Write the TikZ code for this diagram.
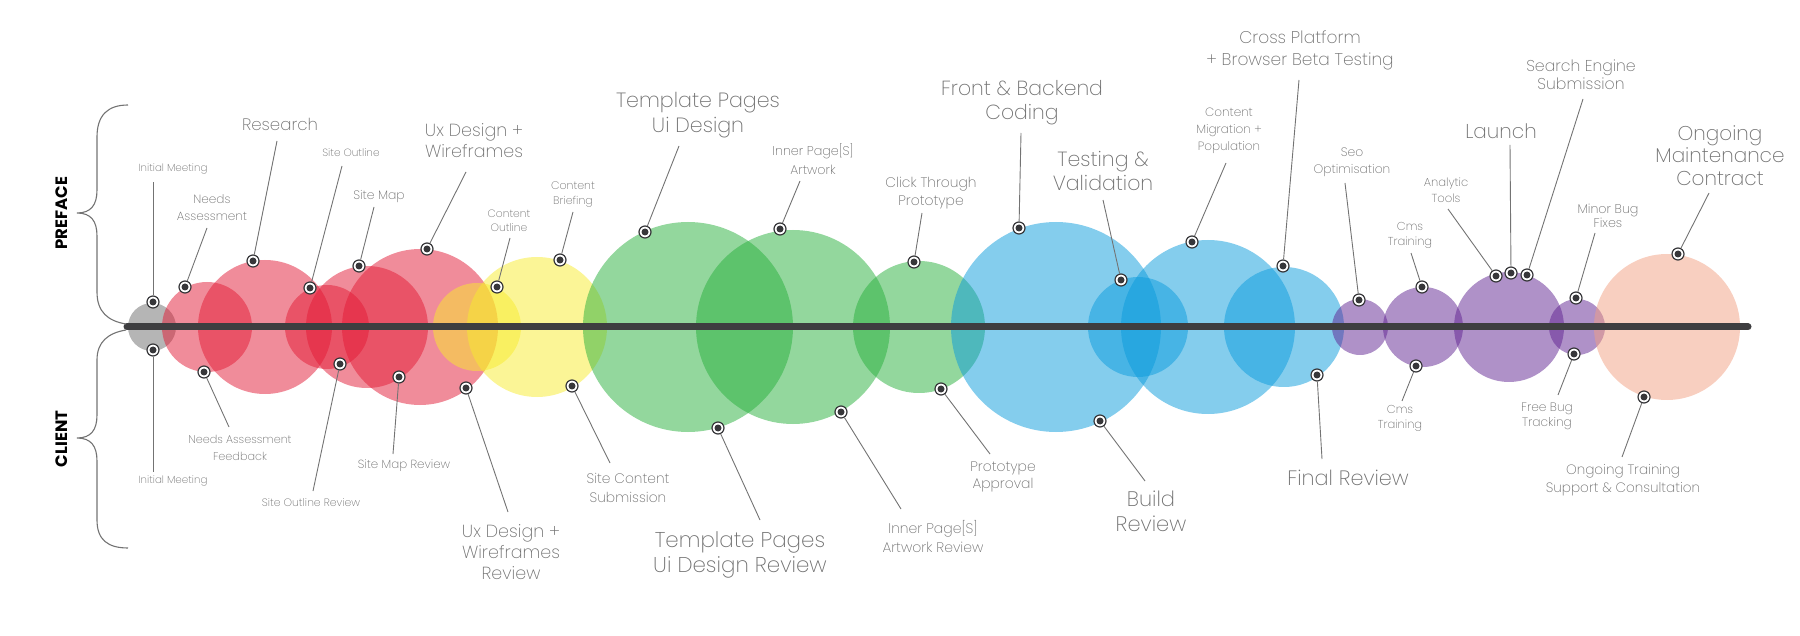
\documentclass[tikz,border=0pt]{standalone}
\usepackage{fontspec}
\setmainfont{Poppins ExtraLight}
\newfontfamily\heavyfont{Poppins}

\definecolor{txt}{RGB}{112,112,112}
\definecolor{leadcol}{RGB}{115,115,115}
\definecolor{dotdark}{RGB}{55,55,58}
\definecolor{barcol}{RGB}{62,62,64}
\definecolor{bgray}{RGB}{120,120,120}
\definecolor{bred}{RGB}{226,26,53}
\definecolor{byellow}{RGB}{247,235,45}
\definecolor{bgreen}{RGB}{40,175,60}
\definecolor{bblue}{RGB}{10,155,220}
\definecolor{bpurple}{RGB}{95,35,145}
\definecolor{bpeach}{RGB}{242,160,130}

% one milestone: name, dot position, leader end, label centre, font size, line skip, text
\newcommand\milestone[7]{%
  \coordinate (#1-end) at (#3);
  \node[dot] (#1-dot) at (#2) {};
  \draw[leader] (#1-dot) -- (#1-end);
  \node[lbl, font=\fontsize{#5}{#6}\selectfont] (#1) at (#4) {#7};
}

\begin{document}
\begin{tikzpicture}[x=1pt, y=-1pt,
  bubble/.style={fill=#1, fill opacity=0.5},
  dot/.style={circle, minimum size=12pt, inner sep=0pt, fill=white, draw=dotdark,
    line width=1.2pt,
    path picture={\fill[dotdark] (path picture bounding box.center) circle (3.5pt);}},
  leader/.style={draw=leadcol, line width=0.9pt},
  lbl/.style={text=txt, align=center, inner sep=0pt},
  brace/.style={draw=leadcol, line width=1.1pt},
  side/.style={rotate=90, inner sep=0pt, font=\heavyfont\bfseries\fontsize{16.5}{16.5}\selectfont}
]
\useasboundingbox (0,0) rectangle (1800,636);

% bubbles along the timeline
\fill[bubble=bgray, fill opacity=0.55] (152,327) circle (24pt);
\fill[bubble=bred] (207,327) circle (45pt);
\fill[bubble=bred] (265,327) circle (67pt);
\fill[bubble=bred] (327,327) circle (42pt);
\fill[bubble=bred] (367,327) circle (61pt);
\fill[bubble=bred] (420,327) circle (78pt);
\fill[bubble=byellow] (477,327) circle (44pt);
\fill[bubble=byellow] (537,327) circle (70pt);
\fill[bubble=bgreen] (688,327) circle (105pt);
\fill[bubble=bgreen] (793,327) circle (97pt);
\fill[bubble=bgreen] (919,327) circle (66pt);
\fill[bubble=bblue] (1056,327) circle (105pt);
\fill[bubble=bblue] (1138,327) circle (50pt);
\fill[bubble=bblue] (1208,327) circle (87pt);
\fill[bubble=bblue] (1284,327) circle (60pt);
\fill[bubble=bpurple] (1360,327) circle (28pt);
\fill[bubble=bpurple] (1423,327) circle (40pt);
\fill[bubble=bpurple] (1509,327) circle (55pt);
\fill[bubble=bpurple] (1577,327) circle (28pt);
\fill[bubble=bpeach] (1667,327) circle (73pt);

% timeline bar
\coordinate (bar-start) at (127,327);
\coordinate (bar-end) at (1748,327);
\draw[barcol, line width=7pt, line cap=round] (bar-start) -- (bar-end);

% preface milestones (above the bar)
\milestone{im}{153,302}{153,182}{173,169}{10.3}{13}{Initial Meeting}
\milestone{na}{185,287}{207,228}{212,207.5}{12}{16.5}{Needs\\Assessment}
\milestone{res}{253,261}{277,141}{280,124}{16.6}{20}{Research}
\milestone{so}{310,288}{342,166}{351,153}{10.5}{13}{Site Outline}
\milestone{sm}{359,266}{374,207}{379,197}{12.3}{15}{Site Map}
\milestone{ux}{427,249}{466,172}{474,140.5}{17.5}{21}{Ux Design +\\Wireframes}
\milestone{co}{497,287}{510,238}{509,221}{10.7}{14}{Content\\Outline}
\milestone{cb}{560,260}{573,212}{573,194.5}{11}{15}{Content\\Briefing}
\milestone{tp}{645,232}{679,146}{698,115.5}{20.6}{25}{Template Pages\\Ui Design}
\milestone{ip}{780,229}{800,181}{813,159.5}{12.7}{19}{Inner Page[S]\\Artwork}
\milestone{ct}{914,262}{922,213}{931,193}{13.9}{18}{Click Through\\Prototype}
\milestone{fb}{1019,228}{1021,133}{1022,103}{20.4}{24}{Front \& Backend\\Coding}
\milestone{tv}{1121,280}{1103,200}{1103,171}{20.5}{24}{Testing \&\\Validation}
\milestone{cm}{1192,242}{1226,163}{1229,131}{12}{17}{Content\\Migration +\\Population}
\milestone{cp}{1283,266}{1299,80}{1300,50}{17}{22}{Cross Platform\\+ Browser Beta Testing}
\milestone{seo}{1359,300}{1345,183}{1352,162.5}{12.3}{17}{Seo\\Optimisation}
\milestone{cmst}{1422,287}{1411,253}{1410,235.5}{11.5}{15}{Cms\\Training}
\milestone{at}{1496,276}{1448,209}{1446,190}{11.6}{16}{Analytic\\Tools}
\milestone{la}{1511,273}{1510,145}{1501,131}{20}{24}{Launch}
\milestone{se}{1527,275}{1583,99}{1581,75}{15.7}{18}{Search Engine\\Submission}
\milestone{mb}{1576,298}{1595,233}{1608,216}{12.7}{14}{Minor Bug\\Fixes}
\milestone{om}{1678,254}{1709,193}{1720,155.5}{20}{22.5}{Ongoing\\Maintenance\\Contract}

% client milestones (below the bar)
\milestone{imc}{153,350}{153,472}{173,481}{10.3}{13}{Initial Meeting}
\milestone{naf}{204,372}{229,427}{240,447.5}{11.2}{17}{Needs Assessment\\Feedback}
\milestone{sor}{340,364}{313,491}{311,503}{10.8}{13}{Site Outline Review}
\milestone{smr}{399,377}{393,454}{404,466}{11.8}{14}{Site Map Review}
\milestone{uxr}{466,388}{508,512}{511,552}{17.5}{21}{Ux Design +\\Wireframes\\Review}
\milestone{scs}{572,386}{610,463}{628,487.5}{13.8}{19}{Site Content\\Submission}
\milestone{tpr}{718,428}{760,520}{740,554.5}{21.4}{25}{Template Pages\\Ui Design Review}
\milestone{ipr}{841,412}{901,509}{933,536.5}{14}{19}{Inner Page[S]\\Artwork Review}
\milestone{pa}{941,389}{990,454}{1003,476.5}{13.9}{17}{Prototype\\Approval}
\milestone{br}{1100,421}{1145,481}{1151,511.5}{21}{25}{Build\\Review}
\milestone{fr}{1317,375}{1322,459}{1348,478}{20.8}{24}{Final Review}
\milestone{cmsb}{1416,366}{1402,401}{1400,418.5}{11.5}{15}{Cms\\Training}
\milestone{fbt}{1574,354}{1558,395}{1547,416.5}{12.2}{15}{Free Bug\\Tracking}
\milestone{ot}{1644,397}{1622,457}{1623,480}{13.6}{18}{Ongoing Training\\Support \& Consultation}

% side braces and their captions
\draw[brace] (128,105) .. controls (108,105) and (97,115) .. (97,137)
  -- (97,190) .. controls (97,205) and (91,213) .. (77,213)
  .. controls (91,213) and (97,221) .. (97,236)
  -- (97,292) .. controls (97,312) and (108,321) .. (126,324);
\draw[brace] (126,330) .. controls (108,333) and (97,342) .. (97,360)
  -- (97,415) .. controls (97,430) and (91,438) .. (77,438)
  .. controls (91,438) and (97,446) .. (97,461)
  -- (97,520) .. controls (97,540) and (108,548) .. (128,548);
\node[side] (preface) at (62,213) {PREFACE};
\node[side] (client) at (62,439) {CLIENT};
\end{tikzpicture}
\end{document}
